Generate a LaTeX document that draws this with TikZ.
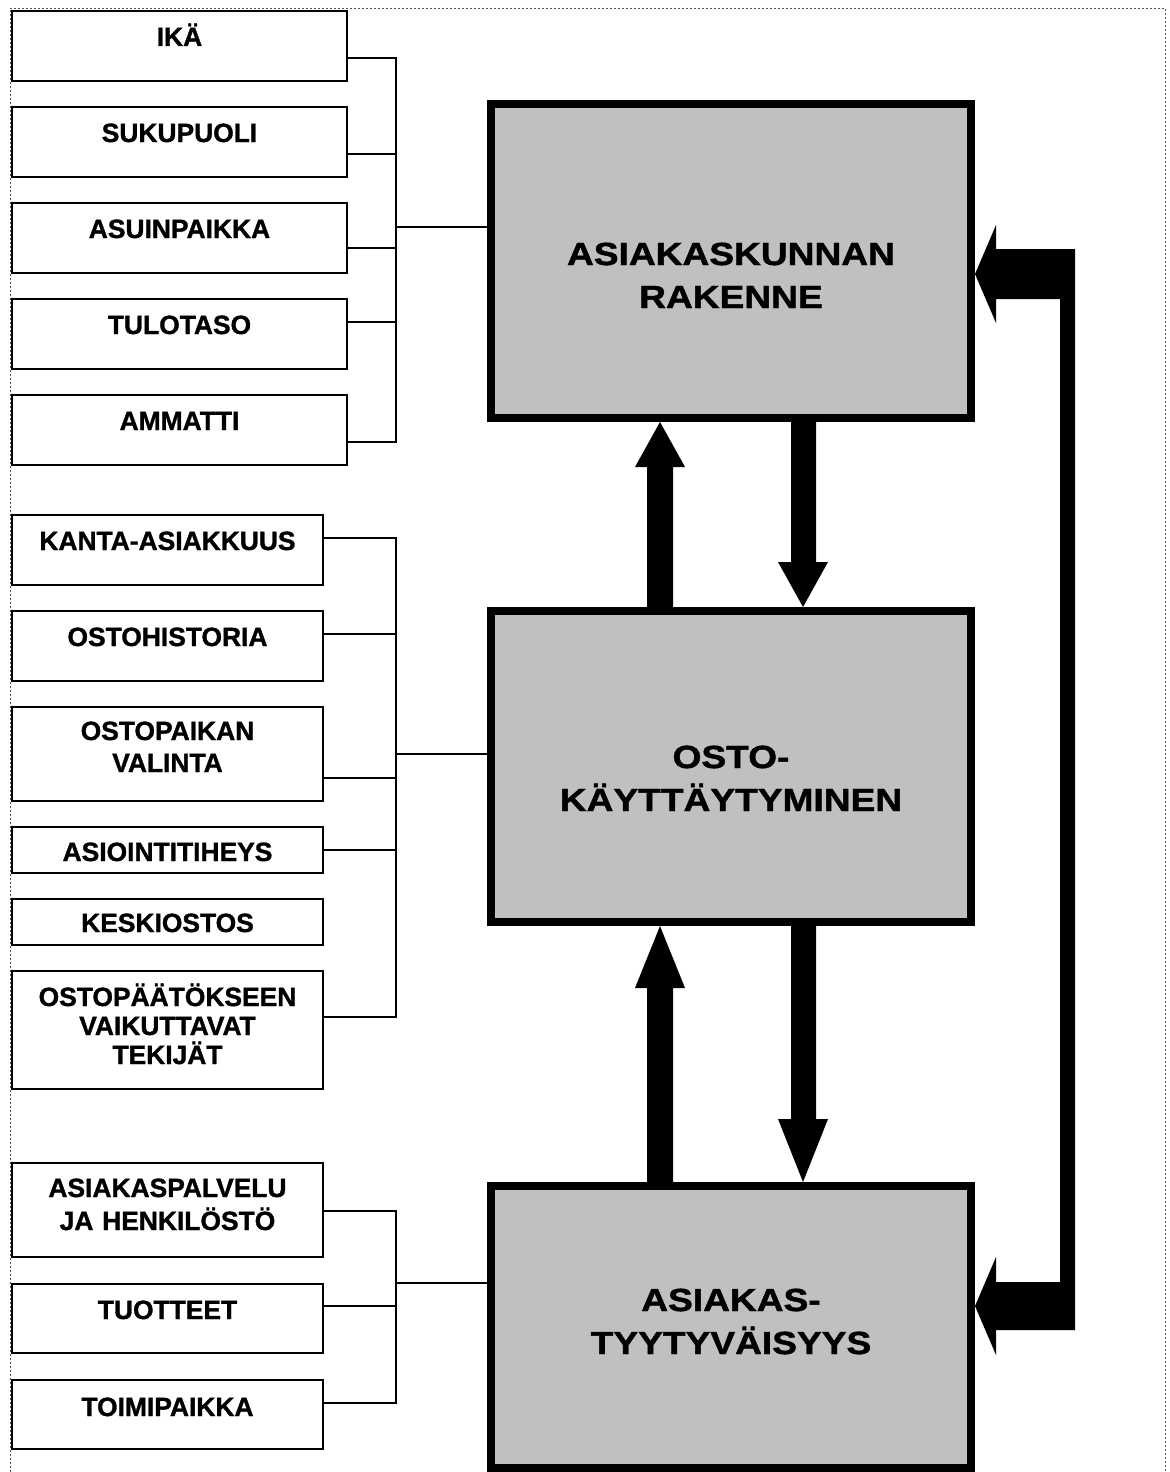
\documentclass[tikz,border=0pt]{standalone}
\usepackage{fontspec}
\setmainfont{Liberation Sans}[BoldFont={Liberation Sans Bold}, BoldFeatures={FakeBold=1.2}]
\newfontfamily\bigf{Liberation Sans Bold}[FakeStretch=1.16, FakeBold=1.4]
\usetikzlibrary{fit,calc}
\definecolor{bgray}{HTML}{C0C0C0}
\definecolor{framegray}{HTML}{555555}
\begin{document}
\begin{tikzpicture}[x=0.5pt,y=-0.5pt,
  sbox/.style={draw, line width=1pt, inner sep=0pt, fill=white},
  bbox/.style={draw, line width=4pt, fill=bgray, inner sep=0pt},
  stext/.style={font=\fontsize{13.2}{16}\selectfont\bfseries, align=center, text width=160pt, anchor=base, inner sep=0pt},
  btext/.style={font=\bigf\fontsize{16}{21.5}\selectfont, align=center, text width=230pt, anchor=base, inner sep=0pt},
  conn/.style={line width=0.75pt},
  fat/.style={fill=black},
  frame/.style={draw=framegray, line width=0.5pt, dash pattern=on 1pt off 1pt}]
\useasboundingbox (0,0) rectangle (1170,1472);
\fill[white] (0,0) rectangle (1170,1472);
\draw[frame] (10,1472) -- (10,8) -- (1165,8) -- (1165,1472);

% group 1 boxes
\node[sbox, fit={(12,11)(347,81)}] (ika) {};
\node[sbox, fit={(12,107)(347,177)}] (suku) {};
\node[sbox, fit={(12,203)(347,273)}] (asuin) {};
\node[sbox, fit={(12,299)(347,369)}] (tulo) {};
\node[sbox, fit={(12,395)(347,465)}] (amm) {};
\node[stext] (ikaT) at (179.5,46) {IKÄ};
\node[stext] (sukuT) at (179.5,142) {SUKUPUOLI};
\node[stext] (asuinT) at (179.5,238) {ASUINPAIKKA};
\node[stext] (tuloT) at (179.5,334) {TULOTASO};
\node[stext] (ammT) at (179.5,430) {AMMATTI};

% group 2 boxes
\node[sbox, fit={(12,515)(323,585)}] (kanta) {};
\node[sbox, fit={(12,611)(323,681)}] (ostoh) {};
\node[sbox, fit={(12,707)(323,801)}] (valinta) {};
\node[sbox, fit={(12,827)(323,873)}] (asioint) {};
\node[sbox, fit={(12,899)(323,945)}] (keski) {};
\node[sbox, fit={(12,971)(323,1089)}] (paatos) {};
\node[stext] (kantaT) at (167.5,550) {KANTA-ASIAKKUUS};
\node[stext] (ostohT) at (167.5,646) {OSTOHISTORIA};
\node[stext] (valintaT) at (167.5,740) {OSTOPAIKAN\\VALINTA};
\node[stext] (asiointT) at (167.5,861) {ASIOINTITIHEYS};
\node[stext] (keskiT) at (167.5,932) {KESKIOSTOS};
\node[stext, font=\fontsize{13.2}{14.5}\selectfont\bfseries] (paatosT) at (167.5,1006) {OSTOPÄÄTÖKSEEN\\VAIKUTTAVAT\\TEKIJÄT};

% group 3 boxes
\node[sbox, fit={(12,1163)(323,1257)}] (asiak) {};
\node[sbox, fit={(12,1284)(323,1353)}] (tuot) {};
\node[sbox, fit={(12,1380)(323,1449)}] (toimi) {};
\node[stext, font=\fontsize{13.2}{16.5}\selectfont\bfseries] (asiakT) at (167.5,1197) {ASIAKASPALVELU\\JA HENKILÖSTÖ};
\node[stext] (tuotT) at (167.5,1319) {TUOTTEET};
\node[stext] (toimiT) at (167.5,1416) {TOIMIPAIKKA};

% big boxes
\node[bbox, fit={(491,104)(971,418)}] (B1) {};
\node[bbox, fit={(491,611)(971,922)}] (B2) {};
\node[bbox, fit={(491,1186)(971,1468)}] (B3) {};
\node[btext] (B1t) at (731,265) {ASIAKASKUNNAN\\RAKENNE};
\node[btext] (B2t) at (731,768) {OSTO-\\KÄYTTÄYTYMINEN};
\node[btext] (B3t) at (731,1311) {ASIAKAS-\\TYYTYVÄISYYS};

% bracket connectors
\coordinate (bus1) at (396,227);
\coordinate (bus2) at (396,754);
\coordinate (bus3) at (396,1283);
\draw[conn] (ika.east |- 0,58) -| (bus1);
\draw[conn] (suku.east |- 0,154) -| (bus1);
\draw[conn] (asuin.east |- 0,248) -| (bus1);
\draw[conn] (tulo.east |- 0,322) -| (bus1);
\draw[conn] (amm.east |- 0,442) -| (bus1);
\draw[conn] (bus1) -- (bus1 -| B1.west);

\draw[conn] (kanta.east |- 0,538) -| (bus2);
\draw[conn] (ostoh.east |- 0,634) -| (bus2);
\draw[conn] (valinta.east |- 0,778) -| (bus2);
\draw[conn] (asioint.east |- 0,850) -| (bus2);
\draw[conn] (paatos.east |- 0,1017) -| (bus2);
\draw[conn] (bus2) -- (bus2 -| B2.west);

\draw[conn] (asiak.east |- 0,1211) -| (bus3);
\draw[conn] (tuot.east |- 0,1306) -| (bus3);
\draw[conn] (toimi.east |- 0,1403) -| (bus3);
\draw[conn] (bus3) -- (bus3 -| B3.west);

% fat arrows between big boxes
\fill[fat] (647,0 |- B2.north) -- (647,467) -- (635,467) -- (660,0 |- B1.south) -- (685,467) -- (673,467) -- (673,0 |- B2.north) -- cycle;
\fill[fat] (791,0 |- B1.south) -- (791,562) -- (778,562) -- (803,0 |- B2.north) -- (828,562) -- (816,562) -- (816,0 |- B1.south) -- cycle;
\fill[fat] (647,0 |- B3.north) -- (647,988) -- (635,988) -- (660,0 |- B2.south) -- (685,988) -- (673,988) -- (673,0 |- B3.north) -- cycle;
\fill[fat] (791,0 |- B2.south) -- (791,1119) -- (778,1119) -- (803,0 |- B3.north) -- (828,1119) -- (816,1119) -- (816,0 |- B2.south) -- cycle;

% right feedback connector
\fill[fat] (B1.east |- 0,274) -- (996,225) -- (996,249) -- (1075,249) -- (1075,1330) -- (996,1330) -- (996,1355) -- (B3.east |- 0,1306) -- (996,1257) -- (996,1282) -- (1060,1282) -- (1060,299) -- (996,299) -- (996,323) -- cycle;
\end{tikzpicture}
\end{document}
